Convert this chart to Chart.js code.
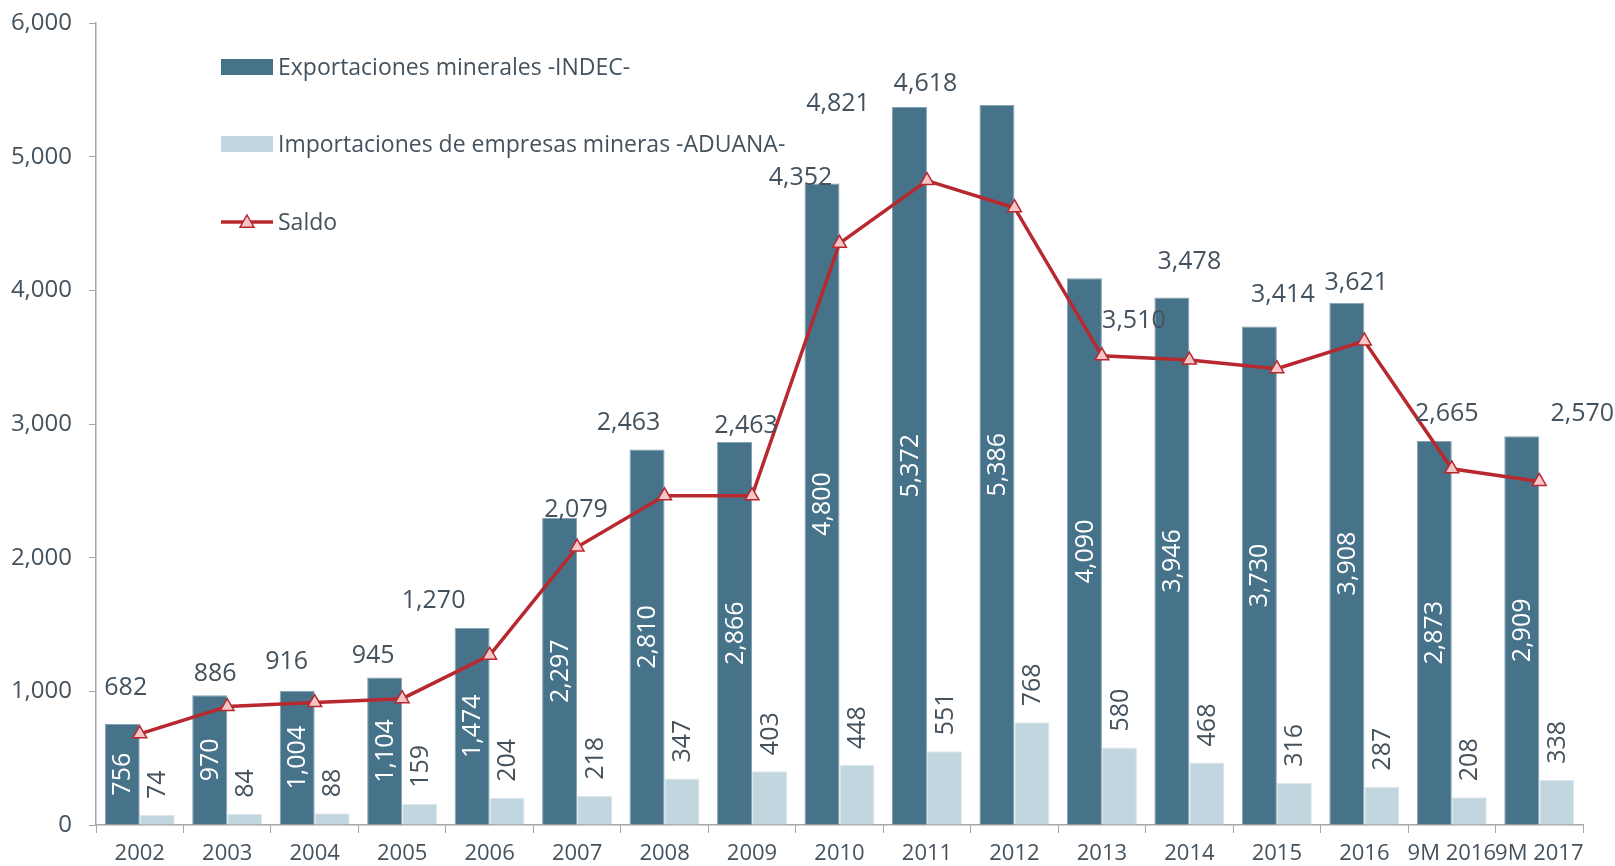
<!DOCTYPE html>
<html>
<head>
<meta charset="utf-8">
<script src="https://cdn.jsdelivr.net/npm/chart.js@4.4.0/dist/chart.umd.min.js"></script>
<style>
  html, body { margin: 0; padding: 0; background: #fff; }
  #wrap { width: 1615px; height: 866px; }
</style>
</head>
<body>
<div id="wrap"><canvas id="chart" width="1615" height="866"></canvas></div>
<script>
const categories = ['2002', '2003', '2004', '2005', '2006', '2007', '2008', '2009', '2010', '2011',
  '2012', '2013', '2014', '2015', '2016', '9M 2016', '9M 2017'];
const exportaciones = [756, 970, 1004, 1104, 1474, 2297, 2810, 2866, 4800, 5372, 5386, 4090, 3946, 3730, 3908, 2873, 2909];
const importaciones = [74, 84, 88, 159, 204, 218, 347, 403, 448, 551, 768, 580, 468, 316, 287, 208, 338];
const saldo = [682, 886, 916, 945, 1270, 2079, 2463, 2463, 4352, 4821, 4618, 3510, 3478, 3414, 3621, 2665, 2570];
const yTicks = [0, 1000, 2000, 3000, 4000, 5000, 6000];

// posicion manual de las etiquetas del saldo (px, relativo al punto)
const saldoLabelOffset = [[-14, -46], [-12, -33], [-28, -41], [-29, -43], [-56, -54], [-1, -37], [-36, -73],
  [-6, -70], [-39, -65], [-89, -77], [-89, -124], [32, -35], [0, -98], [6, -74], [-8, -58], [-5, -55], [43, -68]];

const colExp = '#47738a';
const colImp = '#c2d6df';
const colSaldo = '#b8292f';
const colText = '#44525e';
const colAxis = '#a6a6a6';
const fontFam = '"Open Sans", sans-serif';

const fmt = v => v.toLocaleString('en-US');

const etiquetas = {
  id: 'etiquetas',
  afterDatasetsDraw(chart) {
    const ctx = chart.ctx;
    ctx.save();
    ctx.font = '25px ' + fontFam;

    // exportaciones: dentro de la barra, girado
    chart.getDatasetMeta(0).data.forEach((bar, i) => {
      const cy = (bar.y + bar.base) / 2;
      ctx.save();
      ctx.translate(bar.x, cy);
      ctx.rotate(-Math.PI / 2);
      ctx.fillStyle = '#ffffff';
      ctx.textAlign = 'center';
      ctx.textBaseline = 'middle';
      ctx.fillText(fmt(exportaciones[i]), 0, 1);
      ctx.restore();
    });

    // importaciones: encima de la barra, girado
    chart.getDatasetMeta(1).data.forEach((bar, i) => {
      ctx.save();
      ctx.translate(bar.x, bar.y - 16);
      ctx.rotate(-Math.PI / 2);
      ctx.fillStyle = colText;
      ctx.textAlign = 'left';
      ctx.textBaseline = 'middle';
      ctx.fillText(fmt(importaciones[i]), 0, 1);
      ctx.restore();
    });

    // saldo
    chart.getDatasetMeta(2).data.forEach((pt, i) => {
      const off = saldoLabelOffset[i];
      ctx.fillStyle = colText;
      ctx.textAlign = 'center';
      ctx.textBaseline = 'middle';
      ctx.fillText(fmt(saldo[i]), pt.x + off[0], pt.y + off[1]);
    });
    ctx.restore();
  }
};

const leyenda = {
  id: 'leyenda',
  afterDraw(chart) {
    const ctx = chart.ctx;
    const x0 = 221, w = 52;
    const rows = [67, 144, 222];
    ctx.save();
    ctx.font = '23px ' + fontFam;
    ctx.textBaseline = 'middle';
    ctx.textAlign = 'left';
    chart.data.datasets.forEach((ds, i) => {
      const y = rows[i];
      if (ds.type === 'line') {
        ctx.strokeStyle = colSaldo;
        ctx.lineWidth = 3.5;
        ctx.beginPath();
        ctx.moveTo(x0, y);
        ctx.lineTo(x0 + w, y);
        ctx.stroke();
        const cx = x0 + w / 2, r = 7;
        ctx.beginPath();
        ctx.moveTo(cx, y - r);
        ctx.lineTo(cx + r, y + r * 0.75);
        ctx.lineTo(cx - r, y + r * 0.75);
        ctx.closePath();
        ctx.fillStyle = '#f5c6c8';
        ctx.fill();
        ctx.lineWidth = 1.5;
        ctx.stroke();
      } else {
        ctx.fillStyle = ds.backgroundColor;
        ctx.fillRect(x0, y - 8, w, 16);
      }
      ctx.fillStyle = colText;
      ctx.fillText(ds.label, x0 + w + 5, y + 1);
    });
    ctx.restore();
  }
};

new Chart(document.getElementById('chart'), {
  type: 'bar',
  data: {
    labels: categories,
    datasets: [
      {
        label: 'Exportaciones minerales -INDEC-',
        data: exportaciones,
        backgroundColor: colExp,
        borderColor: '#86a3b3',
        borderWidth: 1,
        categoryPercentage: 0.8,
        barPercentage: 1.0,
        order: 2
      },
      {
        label: 'Importaciones de empresas mineras -ADUANA-',
        data: importaciones,
        backgroundColor: colImp,
        borderColor: '#dbe7ec',
        borderWidth: 1,
        categoryPercentage: 0.8,
        barPercentage: 1.0,
        order: 2
      },
      {
        type: 'line',
        label: 'Saldo',
        data: saldo,
        borderColor: colSaldo,
        borderWidth: 3.5,
        pointStyle: 'triangle',
        pointRadius: 8,
        pointBackgroundColor: '#f5c6c8',
        pointBorderColor: colSaldo,
        pointBorderWidth: 1.5,
        tension: 0,
        order: 1
      }
    ]
  },
  options: {
    responsive: false,
    animation: false,
    devicePixelRatio: 1,
    layout: { padding: { top: 23, right: 32, left: 0, bottom: 0 } },
    plugins: {
      legend: { display: false },
      tooltip: { enabled: false }
    },
    scales: {
      x: {
        offset: true,
        grid: {
          offset: true,
          drawOnChartArea: false,
          drawTicks: true,
          tickLength: 8,
          color: colAxis
        },
        border: { color: colAxis, width: 1.5 },
        ticks: {
          color: colText,
          font: { family: fontFam, size: 22 },
          padding: 8,
          maxRotation: 0,
          autoSkip: false
        },
        afterFit: s => { s.height = 41; s.paddingLeft = 0; s.paddingRight = 0; }
      },
      y: {
        min: 0,
        max: 6000,
        afterBuildTicks: s => { s.ticks = yTicks.map(v => ({ value: v })); },
        grid: {
          drawOnChartArea: false,
          drawTicks: true,
          tickLength: 7,
          color: colAxis
        },
        border: { color: colAxis, width: 1.5 },
        ticks: {
          color: colText,
          font: { family: fontFam, size: 24 },
          padding: 17,
          callback: v => fmt(v)
        },
        afterFit: s => { s.width = 96; s.paddingTop = 0; s.paddingBottom = 0; }
      }
    }
  },
  plugins: [etiquetas, leyenda]
});
</script>
</body>
</html>
